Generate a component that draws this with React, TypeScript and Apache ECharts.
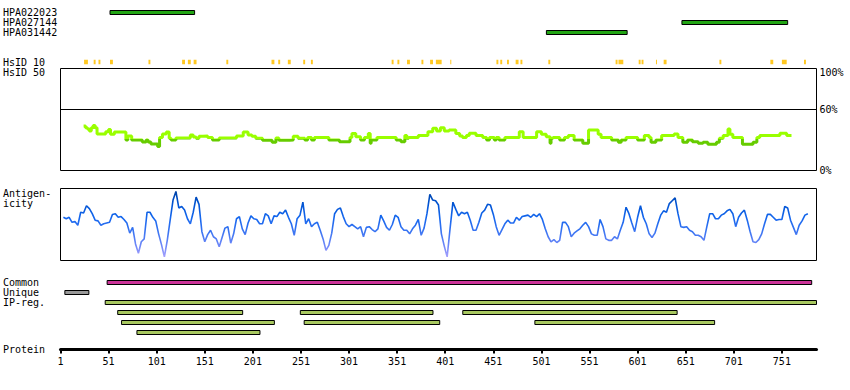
import React, { useEffect, useRef } from 'react';
import * as echarts from 'echarts';

const FONT = 'DejaVu Sans Mono';
const PROTEIN_MIN = 1;
const PROTEIN_MAX = 787;

const hpaNames = ['HPA022023', 'HPA027144', 'HPA031442'];
// [start residue, end residue, row]
const hpaRegions = [[52, 140, 0], [647, 757, 1], [506, 590, 2]];

const hsid10Names = ['HsID 10'];
const hsid10Regions = [
  [25, 29], [35, 37], [40, 42], [52, 55], [92, 94], [127, 130], [133, 136], [139, 142],
  [173, 175], [220, 223], [227, 229], [237, 240], [253, 255], [261, 263], [345, 347],
  [351, 353], [361, 364], [376, 378], [385, 388], [391, 397], [406, 407], [454, 456],
  [458, 460], [465, 467], [474, 477], [479, 481], [508, 510], [578, 580], [581, 586],
  [602, 604], [605, 607], [620, 621], [628, 631], [686, 688], [739, 742], [751, 756], [774, 776],
];

// [residue, identity %] (value holds until next residue)
const hsid50Values = [
  [25, 43.6], [27, 42], [29, 40.7], [31, 38.8], [33, 42], [35, 44], [37, 42], [39, 35.8],
  [48, 38.1], [51, 40.1], [53, 35.5], [57, 37.8], [69, 30], [71, 33.9], [75, 30], [86, 28],
  [90, 30], [92, 28], [95, 26.1], [102, 23.5], [104, 32.3], [107, 35.8], [111, 37.8], [114, 31.6],
  [116, 30], [121, 31.9], [136, 34.9], [139, 32.9], [142, 31.6], [145, 33.5], [149, 33.9], [154, 32.3],
  [159, 30], [166, 31.9], [184, 33.9], [191, 37.8], [196, 34.9], [200, 33.5], [204, 31.6], [211, 29.7],
  [221, 27.7], [225, 31.9], [228, 29.7], [239, 30], [243, 33.5], [248, 31.6], [255, 30], [258, 32.3],
  [262, 30], [265, 32.3], [280, 30], [291, 28.3], [302, 32.3], [304, 36.2], [308, 33.2], [313, 30],
  [317, 32.3], [321, 36.2], [323, 26.7], [324, 30], [330, 32.3], [350, 30], [355, 28.3], [359, 34.2],
  [361, 31.6], [363, 32.3], [373, 34.2], [383, 38.1], [388, 41.4], [392, 38.8], [396, 42], [400, 38.8],
  [405, 39.7], [412, 36.2], [416, 33.9], [419, 32.3], [423, 34.2], [426, 36.5], [433, 34.2], [440, 32.3],
  [444, 30], [447, 32.3], [452, 30], [454, 32.3], [457, 30], [463, 32.3], [478, 38.1], [482, 32.3],
  [496, 38.1], [501, 35.5], [506, 33.2], [510, 26.7], [511, 31.6], [513, 32.3], [520, 30], [525, 32.3],
  [529, 34.2], [535, 30], [544, 26.7], [550, 39.7], [560, 35.5], [563, 32.3], [574, 30], [581, 27.7],
  [584, 30], [589, 32.3], [601, 30], [608, 34.2], [613, 32.3], [615, 27.7], [620, 30], [626, 34.2],
  [639, 35.8], [643, 32.3], [648, 27.7], [653, 30], [658, 28.3], [664, 26.7], [669, 27.7], [674, 25.7],
  [683, 27.7], [686, 31.6], [690, 34.2], [695, 40.7], [697, 35.5], [700, 32.3], [710, 25.7], [721, 27.7],
  [725, 32.3], [728, 34.2], [749, 36.5], [756, 34.2], [761, 34.2],
];

const antigenStart = 4;
const antigenStep = 3;
const antigenValues = [
  60, 58, 60, 53, 54, 49, 67, 66, 76, 72, 65, 56, 55, 49, 51, 52, 53, 64, 65, 60,
  61, 57, 52, 38, 46, 23, 10, 26, 30, 67, 67, 60, 55, 37, 22, 5, 28, 56, 84, 96,
  73, 75, 70, 58, 51, 67, 88, 78, 40, 26, 36, 42, 33, 30, 19, 32, 45, 47, 24, 37,
  58, 61, 44, 36, 52, 62, 58, 57, 51, 51, 65, 62, 51, 62, 61, 67, 65, 70, 60, 51,
  35, 58,
  63, 81, 51, 58, 47, 51, 53, 42, 30, 14, 21, 38, 65, 71, 73, 61, 51, 47, 50, 47,
  44, 47, 33, 46, 47, 43, 40, 44, 63, 55, 46, 42, 50, 63, 60, 47, 42, 42, 37, 44,
  49, 57, 35, 45, 65, 92, 84, 83, 77, 37, 20, 5, 44, 81, 71, 62, 67, 65, 67, 56,
  42, 42, 53, 66, 70, 78, 77, 64, 47, 35, 43, 51, 56, 52, 52, 60, 56, 61, 62, 63,
  60, 64, 61, 65, 57, 44, 33, 26, 29, 25, 28, 53, 53, 47, 33, 38, 41, 44, 49, 53,
  47, 37, 35, 35,
  57, 47, 30, 28, 28, 33, 30, 42, 53, 74, 65, 52, 40, 60, 76, 60, 51, 37, 32, 38,
  51, 63, 69, 67, 79, 83, 87, 65, 47, 46, 47, 42, 40, 35, 35, 33, 28, 47, 65, 65,
  58, 58, 63, 65, 69, 71, 65, 47, 60, 66, 70, 56, 40, 26, 25, 29, 37, 51, 64, 64,
  60, 56, 57, 57, 75, 73, 56, 46, 36, 49, 55, 63, 65,
];

const trackNames = ['Common', 'Unique', 'IP-reg.', '', '', ''];
const commonRegions = [[49, 782]];
const uniqueRegions = [[5, 30]];
// [start, end, IP-reg row]
const ipRegions = [
  [47, 787, 0], [60, 190, 1], [250, 388, 1], [419, 642, 1],
  [64, 223, 2], [254, 395, 2], [494, 681, 2], [80, 208, 3],
];

const leftLabels = [
  { text: 'HsID 50', y: 72.5 },
  { text: 'Antigen-', y: 193 },
  { text: 'icity', y: 203.5 },
  { text: 'Protein', y: 349.5 },
];

const GRID_LEFT = 60.5;
const GRID_WIDTH = 756;

function barRenderer(fill: string, stroke: boolean, h: number) {
  return (params: any, api: any) => {
    const s = api.coord([api.value(0), api.value(2)]);
    const e = api.coord([api.value(1), api.value(2)]);
    return {
      type: 'rect',
      shape: { x: s[0], y: s[1] - h / 2, width: Math.max(e[0] - s[0], 1), height: h },
      style: stroke ? { fill, stroke: '#000', lineWidth: 1 } : { fill },
    };
  };
}

export default function App() {
  const ref = useRef<HTMLDivElement>(null);
  useEffect(() => {
    if (!ref.current) return;
    const chart = echarts.init(ref.current, undefined, { renderer: 'svg' });
    const hiddenX = (gi: number) => ({
      gridIndex: gi, type: 'value', min: PROTEIN_MIN, max: PROTEIN_MAX, show: false,
    });
    const catLabel = {
      color: '#000', fontFamily: FONT, fontSize: 10, align: 'left', margin: 58, interval: 0, hideOverlap: false,
    };
    const catY = (gi: number, names: string[]) => ({
      gridIndex: gi, type: 'category', data: names, inverse: true,
      axisLine: { show: false }, axisTick: { show: false }, splitLine: { show: false },
      axisLabel: catLabel,
    });
    const option: any = {
      animation: false,
      backgroundColor: '#fff',
      grid: [
        { left: GRID_LEFT, width: GRID_WIDTH, top: 7.5, height: 30 },
        { left: GRID_LEFT, width: GRID_WIDTH, top: 57, height: 10 },
        { left: GRID_LEFT, width: GRID_WIDTH, top: 68.5, height: 102, show: true, borderColor: '#000', borderWidth: 1 },
        { left: GRID_LEFT, width: GRID_WIDTH, top: 188.5, height: 72, show: true, borderColor: '#000', borderWidth: 1 },
        { left: GRID_LEFT, width: GRID_WIDTH, top: 277.5, height: 60 },
        { left: GRID_LEFT, width: GRID_WIDTH, top: 339.5, height: 10 },
      ],
      xAxis: [
        hiddenX(0), hiddenX(1), hiddenX(2), hiddenX(3), hiddenX(4),
        {
          gridIndex: 5, type: 'value', min: PROTEIN_MIN, max: PROTEIN_MAX, interval: 50, position: 'bottom',
          axisLine: { show: true, onZero: false, lineStyle: { color: '#000', width: 3 } },
          axisTick: { show: true, length: 4, lineStyle: { color: '#000', width: 2 } },
          axisLabel: { color: '#000', fontFamily: FONT, fontSize: 10, margin: 7, showMaxLabel: false },
          splitLine: { show: false },
        },
      ],
      yAxis: [
        catY(0, hpaNames),
        catY(1, hsid10Names),
        {
          gridIndex: 2, type: 'value', min: 0, max: 100, interval: 20, position: 'right',
          axisLine: { show: false }, axisTick: { show: false }, splitLine: { show: false },
          axisLabel: {
            color: '#000', fontFamily: FONT, fontSize: 10, margin: 3,
            formatter: (v: number) => (v === 100 ? '{t|100%}' : v === 60 || v === 0 ? v + '%' : ''),
            rich: { t: { fontFamily: FONT, fontSize: 10, color: '#000', padding: [8, 0, 0, 0] } },
          },
        },
        { gridIndex: 3, type: 'value', min: 0, max: 100, show: false },
        catY(4, trackNames),
        { gridIndex: 5, type: 'value', min: 0, max: 1, show: false },
      ],
      visualMap: [
        {
          type: 'piecewise', show: false, seriesIndex: 2, dimension: 1,
          pieces: [{ gte: -1, lt: 31, color: '#66cc00' }, { gte: 31, lte: 101, color: '#99ff00' }],
        },
        {
          type: 'continuous', show: false, seriesIndex: 3, dimension: 1, min: 0, max: 100,
          inRange: { color: ['#b8a8ff', '#7088f8', '#3a74f2', '#1366ee', '#0052d0', '#003f9c'] },
        },
      ],
      series: [
        {
          type: 'custom', xAxisIndex: 0, yAxisIndex: 0, renderItem: barRenderer('#22a514', true, 4),
          encode: { x: [0, 1], y: 2 }, data: hpaRegions,
        },
        {
          type: 'custom', xAxisIndex: 1, yAxisIndex: 1, renderItem: barRenderer('#ffc821', false, 4.5),
          encode: { x: [0, 1], y: 2 }, data: hsid10Regions.map((r) => [r[0], r[1], 0]),
        },
        {
          type: 'line', xAxisIndex: 2, yAxisIndex: 2, step: 'end', showSymbol: false,
          lineStyle: { width: 3 }, data: hsid50Values,
          markLine: {
            silent: true, symbol: ['none', 'none'], label: { show: false },
            lineStyle: { color: '#000', width: 1, type: 'solid' },
            data: [{ yAxis: 60 }],
          },
        },
        {
          type: 'line', xAxisIndex: 3, yAxisIndex: 3, showSymbol: false,
          lineStyle: { width: 1.6 },
          data: antigenValues.map((v, i) => [antigenStart + i * antigenStep, v]),
        },
        {
          type: 'custom', xAxisIndex: 4, yAxisIndex: 4, renderItem: barRenderer('#cc3399', true, 4),
          encode: { x: [0, 1], y: 2 }, data: commonRegions.map((r) => [r[0], r[1], 0]),
        },
        {
          type: 'custom', xAxisIndex: 4, yAxisIndex: 4, renderItem: barRenderer('#999999', true, 4),
          encode: { x: [0, 1], y: 2 }, data: uniqueRegions.map((r) => [r[0], r[1], 1]),
        },
        {
          type: 'custom', xAxisIndex: 4, yAxisIndex: 4, renderItem: barRenderer('#a8c860', true, 4),
          encode: { x: [0, 1], y: 2 }, data: ipRegions.map((r) => [r[0], r[1], r[2] + 2]),
        },
      ],
      graphic: leftLabels.map((l) => ({
        type: 'text', x: 3, y: l.y, silent: true,
        style: { text: l.text, fill: '#000', font: `10px "${FONT}"`, verticalAlign: 'middle' },
      })),
    };
    chart.setOption(option);
    return () => chart.dispose();
  }, []);
  return (
    <div
      ref={ref}
      style={{ position: 'fixed', left: 0, top: 0, width: 850, height: 390, background: '#fff' }}
    />
  );
}
